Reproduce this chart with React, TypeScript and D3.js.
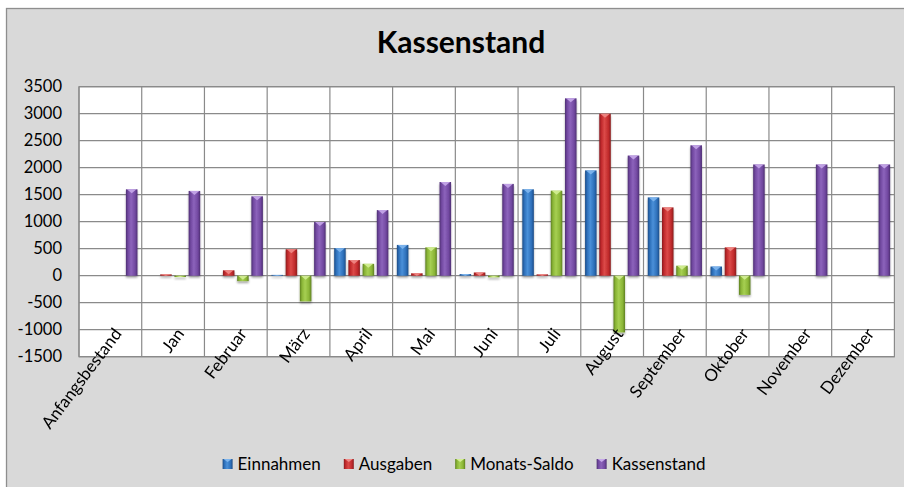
import React, { useMemo } from "react";
import * as d3 from "d3";

const categories = [
  "Anfangsbestand", "Jan", "Februar", "März", "April", "Mai", "Juni",
  "Juli", "August", "September", "Oktober", "November", "Dezember",
];
const einnahmen = [0, 0, 0, 15, 510, 570, 30, 1600, 1950, 1450, 170, 0, 0];
const ausgaben = [0, 25, 100, 490, 290, 45, 60, 25, 3000, 1265, 525, 0, 0];
const monatsSaldo = [0, -25, -100, -475, 220, 525, -30, 1575, -1050, 185, -355, 0, 0];
const kassenstand = [1600, 1570, 1470, 995, 1215, 1735, 1700, 3285, 2225, 2415, 2060, 2060, 2060];
const seriesNames = ["Einnahmen", "Ausgaben", "Monats-Saldo", "Kassenstand"];
const yTicks = [-1500, -1000, -500, 0, 500, 1000, 1500, 2000, 2500, 3000, 3500];

const seriesColors = [
  { dark: "#1d4d87", base: "#2d6fb9", light: "#4a90d9", tri: "#7fb6ee" },
  { dark: "#8a1c1e", base: "#c02a2c", light: "#dc4a48", tri: "#f08a86" },
  { dark: "#5e8022", base: "#8ab536", light: "#a6cf52", tri: "#d3ee95" },
  { dark: "#4e2f73", base: "#7148a0", light: "#8c63bb", tri: "#c6a8ea" },
];

const W = 904;
const H = 487;
const plot = { left: 79, right: 894.4, top: 86.7, bottom: 356.7 };
const FONT = "Lato, 'Open Sans', sans-serif";
const LABEL_ANGLE = -53;

function measure(text: string, font: string): number {
  const c = document.createElement("canvas").getContext("2d");
  if (!c) return text.length * 8;
  c.font = font;
  return c.measureText(text).width;
}

export default function App() {
  const data = [einnahmen, ausgaben, monatsSaldo, kassenstand];

  const x0 = d3.scaleBand<string>().domain(categories).range([plot.left, plot.right]).padding(0);
  const x1 = d3
    .scaleBand<string>()
    .domain(seriesNames)
    .range([0, x0.bandwidth()])
    .paddingInner(0.19)
    .paddingOuter(0.3);
  const y = d3.scaleLinear().domain([-1500, 3500]).range([plot.bottom, plot.top]);

  const legendFont = `17px ${FONT}`;
  const legend = useMemo(() => {
    const widths = seriesNames.map((n) => measure(n, legendFont));
    const marker = 10;
    const gapM = 5;
    const gapItems = 23;
    const total = widths.reduce((a, w) => a + marker + gapM + w, 0) + gapItems * (seriesNames.length - 1);
    let cx = 464 - total / 2;
    return widths.map((w, i) => {
      const item = { x: cx, name: seriesNames[i] };
      cx += marker + gapM + w + gapItems;
      return item;
    });
  }, []);

  const y0 = y(0);
  const bw = x1.bandwidth();

  return (
    <div style={{ position: "fixed", left: 0, top: 0, width: W, height: H, background: "#fff" }}>
      <svg width={W} height={H} style={{ display: "block" }}>
        <defs>
          {seriesColors.map((c, i) => (
            <linearGradient key={i} id={`g${i}`} x1="0" x2="1" y1="0" y2="0">
              <stop offset="0%" stopColor={c.dark} />
              <stop offset="18%" stopColor={c.base} />
              <stop offset="45%" stopColor={c.light} />
              <stop offset="80%" stopColor={c.base} />
              <stop offset="100%" stopColor={c.dark} />
            </linearGradient>
          ))}
          <filter id="sh" x="-30%" y="-10%" width="160%" height="130%">
            <feGaussianBlur in="SourceAlpha" stdDeviation="1.2" />
            <feOffset dx="0" dy="1.5" result="b" />
            <feComponentTransfer>
              <feFuncA type="linear" slope="0.35" />
            </feComponentTransfer>
            <feMerge>
              <feMergeNode />
              <feMergeNode in="SourceGraphic" />
            </feMerge>
          </filter>
        </defs>

        <rect x={6.5} y={8.5} width={W + 10} height={H + 10} fill="#d9d9d9" stroke="#8e8e8e" strokeWidth={1.3} />

        <text
          x={461}
          y={53}
          textAnchor="middle"
          fontFamily={FONT}
          fontWeight="bold"
          fontSize={30}
          fill="#000"
        >
          Kassenstand
        </text>

        <rect x={plot.left} y={plot.top} width={plot.right - plot.left} height={plot.bottom - plot.top} fill="#fff" />

        {yTicks.map((t) => (
          <line key={`h${t}`} x1={plot.left} x2={plot.right} y1={y(t)} y2={y(t)} stroke="#8a8a8a" strokeWidth={1.2} />
        ))}
        {categories.map((c, i) => (
          <line
            key={`v${i}`}
            x1={x0(c) as number}
            x2={x0(c) as number}
            y1={plot.top}
            y2={plot.bottom}
            stroke="#8a8a8a"
            strokeWidth={1.2}
          />
        ))}
        <rect
          x={plot.left}
          y={plot.top}
          width={plot.right - plot.left}
          height={plot.bottom - plot.top}
          fill="none"
          stroke="#8a8a8a"
          strokeWidth={1.2}
        />

        {yTicks.map((t) => (
          <text
            key={`yl${t}`}
            x={62}
            y={y(t)}
            dy="0.35em"
            textAnchor="end"
            fontFamily={FONT}
            fontSize={16.5}
            fill="#000"
          >
            {String(t)}
          </text>
        ))}

        <g filter="url(#sh)">
          {categories.map((c, ci) =>
            seriesNames.map((s, si) => {
              const v = data[si][ci];
              if (!v) return null;
              const bx = (x0(c) as number) + (x1(s) as number);
              const top = Math.min(y(v), y0);
              const h = Math.abs(y(v) - y0);
              const triH = Math.min(4, h);
              return (
                <g key={`${ci}-${si}`}>
                  <rect x={bx} y={top} width={bw} height={h} fill={`url(#g${si})`} />
                  <polygon
                    points={`${bx + 1},${top} ${bx + bw - 1},${top} ${bx + bw / 2},${top + triH}`}
                    fill={seriesColors[si].tri}
                    opacity={0.9}
                  />
                </g>
              );
            })
          )}
        </g>

        {categories.map((c) => {
          const cx = (x0(c) as number) + x0.bandwidth() / 2 + 12;
          const cy = 334;
          return (
            <text
              key={`xl${c}`}
              x={cx}
              y={cy}
              textAnchor="end"
              transform={`rotate(${LABEL_ANGLE}, ${cx}, ${cy})`}
              fontFamily={FONT}
              fontSize={17}
              fill="#000"
            >
              {c}
            </text>
          );
        })}

        {legend.map((l, i) => (
          <g key={`lg${i}`}>
            <rect x={l.x} y={459} width={10} height={10} fill={`url(#g${i})`} />
            <polygon
              points={`${l.x + 1},459 ${l.x + 9},459 ${l.x + 5},462`}
              fill={seriesColors[i].tri}
            />
            <text x={l.x + 15} y={464} dy="0.35em" fontFamily={FONT} fontSize={17} fill="#000">
              {l.name}
            </text>
          </g>
        ))}
      </svg>
    </div>
  );
}
